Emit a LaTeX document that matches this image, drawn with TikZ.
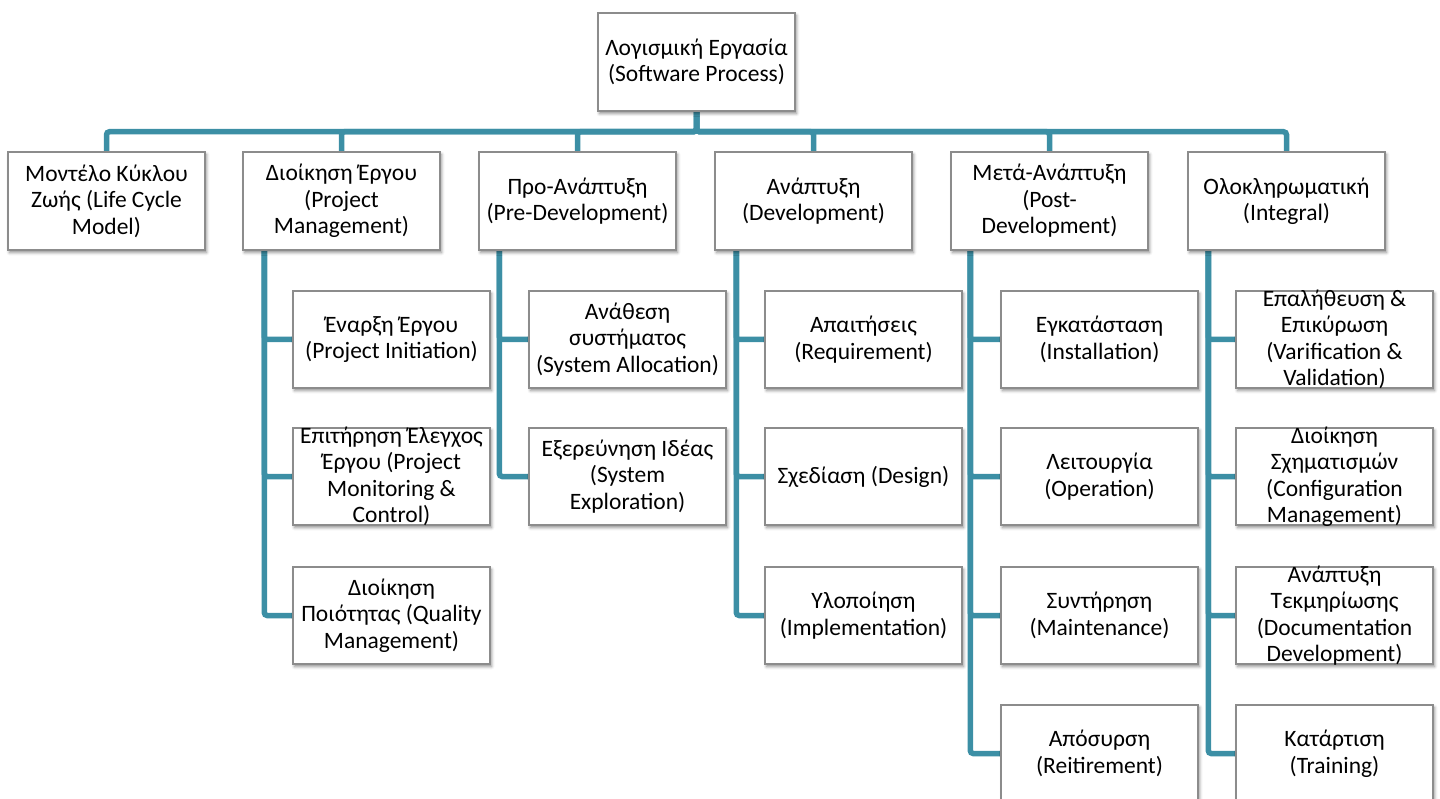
\documentclass[tikz,border=0pt]{standalone}
\usepackage{fontspec}
\setmainfont{Carlito}
\usetikzlibrary{shadows.blur,backgrounds}
\definecolor{linkteal}{RGB}{60,143,165}
\definecolor{framegray}{RGB}{140,140,140}
\tikzset{
  box/.style={draw=framegray, line width=1.5pt, fill=white,
    minimum width=197pt, minimum height=97pt, inner sep=0pt,
    blur shadow={shadow xshift=1.5pt, shadow yshift=-2.5pt,
      shadow blur radius=3pt, shadow opacity=45}},
  topbox/.style={box, minimum height=98pt},
  lbl/.style={align=center, inner sep=0pt,
    font=\fontsize{23.5}{26.5}\selectfont},
  conn/.style={draw=linkteal, line width=5.5pt, rounded corners=3pt},
}
% frame node plus its centred caption (caption may overflow the frame)
\newcommand\procbox[4]{%
  \node[#1] (#2) at (#3) {};
  \node[lbl] (#2t) at (#2) {#4};}
\begin{document}
\begin{tikzpicture}[x=1pt,y=-1pt]
\useasboundingbox (0,0) rectangle (1440,799);
\clip (0,0) rectangle (1440,799);

% root
\procbox{topbox}{root}{696.5,62}{Λογισμική Εργασία\\(Software Process)}

% main process groups
\procbox{topbox}{p1}{106.5,201}{Μοντέλο Κύκλου\\Ζωής (Life Cycle\\Model)}
\procbox{topbox}{p2}{341.5,201}{Διοίκηση Έργου\\(Project\\Management)}
\procbox{topbox}{p3}{577.5,201}{Προ-Ανάπτυξη\\(Pre-Development)}
\procbox{topbox}{p4}{813.5,201}{Ανάπτυξη\\(Development)}
\procbox{topbox}{p5}{1049.5,201}{Μετά-Ανάπτυξη\\(Post-\\Development)}
\procbox{topbox}{p6}{1286.5,201}{Ολοκληρωματική\\(Integral)}

% project management
\procbox{box}{c21}{391.5,339.5}{Έναρξη Έργου\\(Project Initiation)}
\procbox{box}{c22}{391.5,476.5}{Επιτήρηση Έλεγχος\\Έργου (Project\\Monitoring \&\\Control)}
\procbox{box}{c23}{391.5,615.5}{Διοίκηση\\Ποιότητας (Quality\\Management)}

% pre-development
\procbox{box}{c31}{627.5,339.5}{Ανάθεση\\συστήματος\\(System Allocation)}
\procbox{box}{c32}{627.5,476.5}{Εξερεύνηση Ιδέας\\(System\\Exploration)}

% development
\procbox{box}{c41}{863.5,339.5}{Απαιτήσεις\\(Requirement)}
\procbox{box}{c42}{863.5,476.5}{Σχεδίαση (Design)}
\procbox{box}{c43}{863.5,615.5}{Υλοποίηση\\(Implementation)}

% post-development
\procbox{box}{c51}{1099.5,339.5}{Εγκατάσταση\\(Installation)}
\procbox{box}{c52}{1099.5,476.5}{Λειτουργία\\(Operation)}
\procbox{box}{c53}{1099.5,615.5}{Συντήρηση\\(Maintenance)}
\procbox{box}{c54}{1099.5,753.5}{Απόσυρση\\(Reitirement)}

% integral
\procbox{box}{c61}{1334.5,339.5}{Επαλήθευση \&\\Επικύρωση\\(Varification \&\\Validation)}
\procbox{box}{c62}{1334.5,476.5}{Διοίκηση\\Σχηματισμών\\(Configuration\\Management)}
\procbox{box}{c63}{1334.5,615.5}{Ανάπτυξη\\Τεκμηρίωσης\\(Documentation\\Development)}
\procbox{box}{c64}{1334.5,753.5}{Κατάρτιση\\(Training)}

\begin{scope}[on background layer]
  \foreach \p in {p1,p2,p3,p4,p5,p6}
    \draw[conn] (root.south) -- ++(0,20) -| (\p.north);
  \foreach \c in {c21,c22,c23}
    \draw[conn] (p2.south west) ++(22,0) |- (\c.west);
  \foreach \c in {c31,c32}
    \draw[conn] (p3.south west) ++(21,0) |- (\c.west);
  \foreach \c in {c41,c42,c43}
    \draw[conn] (p4.south west) ++(22,0) |- (\c.west);
  \foreach \c in {c51,c52,c53,c54}
    \draw[conn] (p5.south west) ++(20,0) |- (\c.west);
  \foreach \c in {c61,c62,c63,c64}
    \draw[conn] (p6.south west) ++(21,0) |- (\c.west);
\end{scope}
\end{tikzpicture}
\end{document}
